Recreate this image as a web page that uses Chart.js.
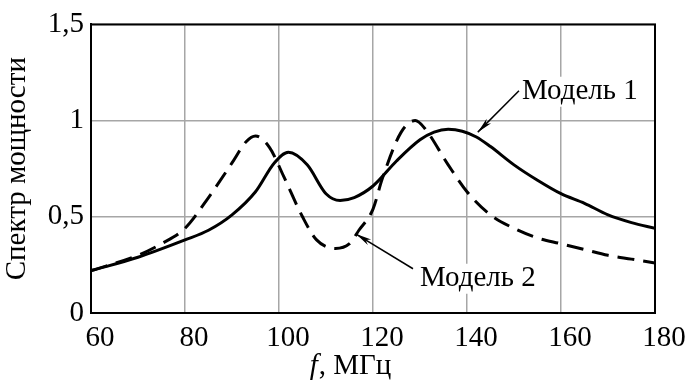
<!DOCTYPE html>
<html lang="ru">
<head>
  <meta charset="UTF-8" />
  <title>Спектр мощности</title>
  <style>
    body { margin: 0; background: #fff; }
    #wrap { width: 686px; height: 383px; }
  </style>
</head>
<body>
  <div id="wrap"><canvas id="chart"></canvas></div>

  <script src="https://cdn.jsdelivr.net/npm/chart.js"></script>
  <script>
    // values
    const freq1  = [60, 70, 80, 85, 90, 95, 99, 102, 106, 110, 113, 116, 120, 125, 130, 133, 136, 139, 142, 145, 150, 155, 160, 165, 170, 175, 180];
    const model1 = [0.22, 0.29, 0.38, 0.43, 0.51, 0.63, 0.78, 0.835, 0.77, 0.62, 0.585, 0.60, 0.66, 0.79, 0.90, 0.94, 0.955, 0.945, 0.915, 0.865, 0.77, 0.69, 0.62, 0.57, 0.51, 0.47, 0.44];
    const freq2  = [60, 70, 75, 80, 85, 90, 93, 95, 98, 101, 105, 108, 112, 115, 117, 120, 122, 126, 129, 131, 136, 140, 145, 150, 155, 160, 165, 170, 175, 180];
    const model2 = [0.22, 0.30, 0.36, 0.44, 0.60, 0.78, 0.89, 0.92, 0.86, 0.71, 0.50, 0.38, 0.335, 0.36, 0.43, 0.54, 0.70, 0.94, 1.0, 0.96, 0.77, 0.63, 0.51, 0.44, 0.39, 0.36, 0.33, 0.30, 0.28, 0.26];
    const xTicks = [60, 80, 100, 120, 140, 160, 180];
    const yTicks = [0, 0.5, 1, 1.5];

    const serif = "'Liberation Serif', 'DejaVu Serif', serif";

    function pts(xs, ys) {
      return xs.map((x, i) => ({ x: x, y: ys[i] }));
    }

    // labels with leader arrows (text at tx/ty, arrow tip at ax/ay)
    const notes = [
      { text: 'Модель 1', tx: 151.7, ty: 1.15, ax: 142.3, ay: 0.94, dx: -3, dy: -1 },
      { text: 'Модель 2', tx: 130, ty: 0.178, ax: 116.4, ay: 0.41, dx: -7, dy: -10 }
    ];

    function arrow(c, x1, y1, x2, y2) {
      c.beginPath();
      c.moveTo(x1, y1);
      c.lineTo(x2, y2);
      c.stroke();
      const a = Math.atan2(y2 - y1, x2 - x1);
      const len = 16, w = 0.2;
      c.beginPath();
      c.moveTo(x2, y2);
      c.lineTo(x2 - len * Math.cos(a - w), y2 - len * Math.sin(a - w));
      c.lineTo(x2 - len * 0.7 * Math.cos(a), y2 - len * 0.7 * Math.sin(a));
      c.lineTo(x2 - len * Math.cos(a + w), y2 - len * Math.sin(a + w));
      c.closePath();
      c.fill();
    }

    const extras = {
      id: 'extras',
      afterDraw(chart) {
        const c = chart.ctx;
        const xs = chart.scales.x, ys = chart.scales.y;
        const area = chart.chartArea;
        c.save();
        // frame
        c.strokeStyle = '#000';
        c.lineWidth = 2;
        c.strokeRect(area.left, area.top, area.right - area.left, area.bottom - area.top);

        // annotations
        c.font = '29px ' + serif;
        c.textBaseline = 'middle';
        c.textAlign = 'left';
        c.lineWidth = 1.5;
        notes.forEach(n => {
          const px = xs.getPixelForValue(n.tx), py = ys.getPixelForValue(n.ty);
          const w = c.measureText(n.text).width;
          c.fillStyle = '#fff';
          c.fillRect(px - 2, py - 15, w + 4, 30);
          c.fillStyle = '#000';
          c.fillText(n.text, px, py);
          arrow(c, px + n.dx, py + n.dy, xs.getPixelForValue(n.ax), ys.getPixelForValue(n.ay));
        });

        // x axis title with italic f
        const cx = 350, ty = 366;
        c.font = 'italic 29px ' + serif;
        const fW = c.measureText('f').width;
        c.font = '29px ' + serif;
        const restW = c.measureText(', МГц').width;
        const x0 = cx - (fW + restW) / 2;
        c.font = 'italic 29px ' + serif;
        c.fillText('f', x0, ty);
        c.font = '29px ' + serif;
        c.fillText(', МГц', x0 + fW + 1, ty);
        c.restore();
      }
    };

    const ctx = document.getElementById('chart').getContext('2d');
    new Chart(ctx, {
      type: 'line',
      data: {
        datasets: [
          {
            label: 'Модель 1',
            data: pts(freq1, model1),
            borderColor: '#000',
            borderWidth: 3,
            pointRadius: 0,
            fill: false,
            cubicInterpolationMode: 'monotone'
          },
          {
            label: 'Модель 2',
            data: pts(freq2, model2),
            borderColor: '#000',
            borderWidth: 3,
            borderDash: [17, 9],
            pointRadius: 0,
            fill: false,
            cubicInterpolationMode: 'monotone'
          }
        ]
      },
      options: {
        responsive: true,
        maintainAspectRatio: false,
        animation: false,
        layout: { padding: { top: 17, right: 31, left: 0, bottom: 0 } },
        plugins: { legend: { display: false }, tooltip: { enabled: false } },
        scales: {
          x: {
            type: 'linear',
            min: 60,
            max: 180,
            afterBuildTicks(scale) { scale.ticks = xTicks.map(v => ({ value: v })); },
            afterFit(scale) { scale.height = 70; },
            grid: { color: '#a6a6a6', lineWidth: 1.5, drawTicks: false },
            border: { color: '#000', width: 2 },
            ticks: {
              color: '#000',
              padding: 8,
              labelOffset: 9,
              font: { family: serif, size: 29 }
            }
          },
          y: {
            min: 0,
            max: 1.5,
            afterBuildTicks(scale) { scale.ticks = yTicks.map(v => ({ value: v })); },
            afterFit(scale) { scale.width = 91; },
            grid: { color: '#a6a6a6', lineWidth: 1.5, drawTicks: false },
            border: { color: '#000', width: 2 },
            ticks: {
              color: '#000',
              padding: 7,
              font: { family: serif, size: 29 },
              callback: v => String(v).replace('.', ',')
            },
            title: {
              display: true,
              text: 'Спектр мощности',
              color: '#000',
              padding: { top: 0, bottom: 5 },
              font: { family: serif, size: 29 }
            }
          }
        }
      },
      plugins: [extras]
    });
  </script>
</body>
</html>
